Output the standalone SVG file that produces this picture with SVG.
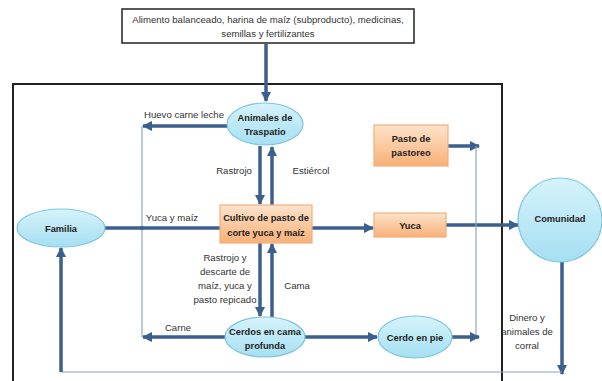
<svg xmlns="http://www.w3.org/2000/svg" width="602" height="381" viewBox="0 0 602 381">
<defs>
<linearGradient id="gBlue" x1="0" y1="0" x2="0" y2="1">
<stop offset="0" stop-color="#d6f3fb"/><stop offset="1" stop-color="#a5dff2"/>
</linearGradient>
<linearGradient id="gOrange" x1="0" y1="0" x2="0" y2="1">
<stop offset="0" stop-color="#fde3cb"/><stop offset="1" stop-color="#f8b077"/>
</linearGradient>
<marker id="ah" viewBox="0 0 10 10" refX="9" refY="5" markerWidth="3" markerHeight="3" orient="auto" markerUnits="strokeWidth">
<path d="M0,0 L10,5 L0,10 z" fill="#3b5f8e"/>
</marker>
</defs>
<style>
.thick{stroke:#3b5f8e;stroke-width:3.5;fill:none}
.thin{stroke:#8aa6c8;stroke-width:1.2;fill:none}
.ell{fill:url(#gBlue);stroke:#7fc4dc;stroke-width:1.2}
.box{fill:url(#gOrange);stroke:#f2b07c;stroke-width:1.2}
.t{font-family:"Liberation Sans",Arial,sans-serif;font-size:9.6px;fill:#333;text-anchor:middle}
.b{font-family:"Liberation Sans",Arial,sans-serif;font-size:9.3px;font-weight:bold;fill:#222;text-anchor:middle}
</style>
<rect width="602" height="381" fill="#ffffff"/>
<g id="frame">
<path d="M13,384 L13,84 L502,84 L502,384" fill="none" stroke="#222" stroke-width="2"/>
</g>
<g id="connectors">
<line class="thick" x1="266" y1="44" x2="266" y2="101" marker-end="url(#ah)"/>
<line class="thick" x1="229" y1="126" x2="143" y2="126" marker-end="url(#ah)"/>
<line class="thin" x1="142" y1="126" x2="142" y2="337"/>
<line class="thick" x1="260" y1="146" x2="260" y2="204" marker-end="url(#ah)"/>
<line class="thick" x1="272" y1="205" x2="272" y2="147" marker-end="url(#ah)"/>
<line class="thick" x1="105" y1="228" x2="220" y2="228"/>
<circle cx="142" cy="228" r="2" fill="#3b5f8e"/>
<line class="thick" x1="312" y1="228" x2="373" y2="228" marker-end="url(#ah)"/>
<line class="thick" x1="446" y1="225" x2="518" y2="225" marker-end="url(#ah)"/>
<line class="thick" x1="448" y1="146" x2="479" y2="146" marker-end="url(#ah)"/>
<line class="thin" x1="476" y1="146" x2="476" y2="337"/>
<line class="thick" x1="260" y1="243" x2="260" y2="316" marker-end="url(#ah)"/>
<line class="thick" x1="272" y1="317" x2="272" y2="244" marker-end="url(#ah)"/>
<line class="thick" x1="226" y1="337" x2="143" y2="337" marker-end="url(#ah)"/>
<line class="thick" x1="305" y1="337" x2="377" y2="337" marker-end="url(#ah)"/>
<line class="thick" x1="452" y1="337" x2="479" y2="337" marker-end="url(#ah)"/>
<line class="thick" x1="562" y1="262" x2="562" y2="374" marker-end="url(#ah)"/>
<line class="thin" x1="562" y1="372" x2="61" y2="372"/>
<line class="thick" x1="61" y1="372" x2="61" y2="248" marker-end="url(#ah)"/>
<text class="t" x="184" y="118">Huevo carne leche</text>
<text class="t" x="234" y="174">Rastrojo</text>
<text class="t" x="311" y="174">Estiércol</text>
<text class="t" x="172" y="221">Yuca y maíz</text>
<text class="t" x="225" y="261">Rastrojo y</text>
<text class="t" x="225" y="275">descarte de</text>
<text class="t" x="225" y="289">maíz, yuca y</text>
<text class="t" x="225" y="303">pasto repicado</text>
<text class="t" x="297" y="289">Cama</text>
<text class="t" x="178" y="331">Carne</text>
<text class="t" x="527" y="321">Dinero y</text>
<text class="t" x="527" y="335">animales de</text>
<text class="t" x="527" y="349">corral</text>
</g>
<g id="insumos">
<rect x="122" y="9" width="292" height="34" fill="#fff" stroke="#222" stroke-width="1.5"/>
<text class="t" x="268" y="23">Alimento balanceado, harina de maíz (subproducto), medicinas,</text>
<text class="t" x="268" y="37">semillas y fertilizantes</text>
</g>
<g id="animales">
<ellipse class="ell" cx="265" cy="124" rx="38" ry="21"/>
<text class="b" x="265" y="121">Animales de</text>
<text class="b" x="265" y="135">Traspatio</text>
</g>
<g id="pastoreo">
<rect class="box" x="374" y="125" width="74" height="41"/>
<text class="b" x="411" y="142">Pasto de</text>
<text class="b" x="411" y="156">pastoreo</text>
</g>
<g id="familia">
<ellipse class="ell" cx="61" cy="228" rx="44" ry="19"/>
<text class="b" x="61" y="232">Familia</text>
</g>
<g id="cultivo">
<rect class="box" x="220" y="205" width="92" height="38"/>
<text class="b" x="266" y="221">Cultivo de pasto de</text>
<text class="b" x="266" y="236">corte yuca y maíz</text>
</g>
<g id="yuca">
<rect class="box" x="374" y="213" width="72" height="24"/>
<text class="b" x="410" y="229">Yuca</text>
</g>
<g id="comunidad">
<circle class="ell" cx="560" cy="220" r="42"/>
<text class="b" x="560" y="222">Comunidad</text>
</g>
<g id="cerdos">
<ellipse class="ell" cx="265" cy="337" rx="40" ry="20"/>
<text class="b" x="265" y="335">Cerdos en cama</text>
<text class="b" x="265" y="349">profunda</text>
</g>
<g id="cerdopie">
<ellipse class="ell" cx="415" cy="337" rx="37" ry="21"/>
<text class="b" x="415" y="341">Cerdo en pie</text>
</g>
</svg>
